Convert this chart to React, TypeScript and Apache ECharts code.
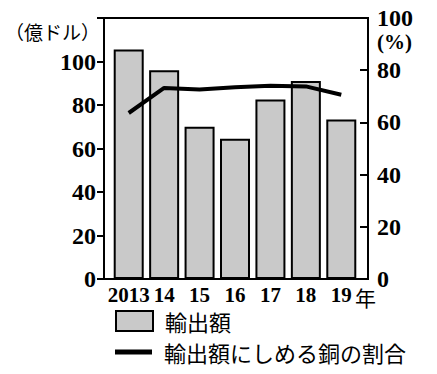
import React, { useEffect, useRef } from "react";
import * as echarts from "echarts";

const years = ["2013", "14", "15", "16", "17", "18", "19"];
const exportValues = [105.5, 96, 70, 64.5, 82.5, 91, 73.3];
const copperShare = [63.6, 73.2, 72.6, 73.5, 74, 73.8, 70.6];
const leftTicks = { min: 0, max: 120, interval: 20 };
const rightTicks = { min: 0, max: 100, interval: 20 };
const barName = "輸出額";
const lineName = "輸出額にしめる銅の割合";

const serif = "Liberation Serif, serif";
const cjk = "Noto Sans CJK JP";

export default function App() {
  const ref = useRef<HTMLDivElement>(null);
  useEffect(() => {
    if (!ref.current) return;
    const chart = echarts.init(ref.current, undefined, { renderer: "svg" });
    const legendText = {
      color: "#000",
      fontFamily: cjk,
      fontSize: 22,
      lineHeight: 22,
      padding: [0, 0, 0, 7],
    };
    chart.setOption({
      animation: false,
      backgroundColor: "#ffffff",
      grid: [
        { left: 111, right: 78, top: 18, bottom: 95 },
        {
          left: 104,
          right: 69,
          top: 18,
          bottom: 95,
          show: true,
          borderColor: "#000",
          borderWidth: 2,
          backgroundColor: "transparent",
        },
      ],
      xAxis: [
        {
          type: "category",
          gridIndex: 0,
          data: years,
          axisLine: { show: false },
          axisTick: { show: false },
          axisLabel: {
            interval: 0,
            margin: 5,
            color: "#000",
            fontFamily: serif,
            fontWeight: "bold",
            fontSize: 21,
            lineHeight: 21,
          },
        },
        { type: "value", gridIndex: 1, show: false },
      ],
      yAxis: [
        {
          type: "value",
          gridIndex: 0,
          position: "left",
          offset: 7,
          ...leftTicks,
          axisLine: { show: false },
          axisTick: { show: true, length: 7, lineStyle: { color: "#000", width: 2 } },
          splitLine: { show: false },
          axisLabel: {
            margin: 8,
            color: "#000",
            fontFamily: serif,
            fontWeight: "bold",
            fontSize: 24,
            lineHeight: 20,
            formatter: (v: number) => (v === leftTicks.max ? "" : String(v)),
          },
        },
        {
          type: "value",
          gridIndex: 0,
          position: "right",
          offset: 9,
          ...rightTicks,
          axisLine: { show: false },
          axisTick: {
            show: true,
            inside: true,
            length: 8,
            lineStyle: { color: "#000", width: 2 },
          },
          splitLine: { show: false },
          axisLabel: {
            margin: 9,
            color: "#000",
            fontFamily: serif,
            fontWeight: "bold",
            fontSize: 24,
            lineHeight: 20,
          },
        },
        { type: "value", gridIndex: 1, show: false },
      ],
      legend: [
        {
          orient: "vertical",
          left: 110,
          top: 305,
          itemWidth: 37,
          itemHeight: 20,
          data: [{ name: barName, icon: "rect" }],
          textStyle: legendText,
        },
        {
          orient: "vertical",
          left: 110,
          top: 336,
          itemWidth: 37,
          itemHeight: 5,
          data: [{ name: lineName, icon: "rect" }],
          itemStyle: { color: "#000", borderWidth: 0 },
          textStyle: legendText,
        },
      ],
      graphic: [
        {
          type: "text",
          left: 5,
          top: 22,
          style: { text: "（億ドル）", fontFamily: cjk, fontSize: 19, fill: "#000" },
        },
        {
          type: "text",
          left: 377,
          top: 31,
          style: {
            text: "(%)",
            fontFamily: serif,
            fontWeight: "bold",
            fontSize: 21,
            lineHeight: 18,
            fill: "#000",
          },
        },
        {
          type: "text",
          left: 355,
          top: 286,
          style: { text: "年", fontFamily: cjk, fontSize: 21, lineHeight: 21, fill: "#000" },
        },
      ],
      series: [
        {
          name: barName,
          type: "bar",
          xAxisIndex: 0,
          yAxisIndex: 0,
          data: exportValues,
          barWidth: 30,
          itemStyle: { color: "#c9c9c9", borderColor: "#000", borderWidth: 2 },
        },
        {
          name: lineName,
          type: "line",
          xAxisIndex: 0,
          yAxisIndex: 1,
          data: copperShare,
          symbol: "none",
          z: 5,
          lineStyle: { color: "#000", width: 4 },
          itemStyle: { color: "#000" },
        },
      ],
    });
    return () => chart.dispose();
  }, []);
  return (
    <div
      ref={ref}
      style={{ position: "absolute", left: 0, top: 0, width: 437, height: 374 }}
    />
  );
}
